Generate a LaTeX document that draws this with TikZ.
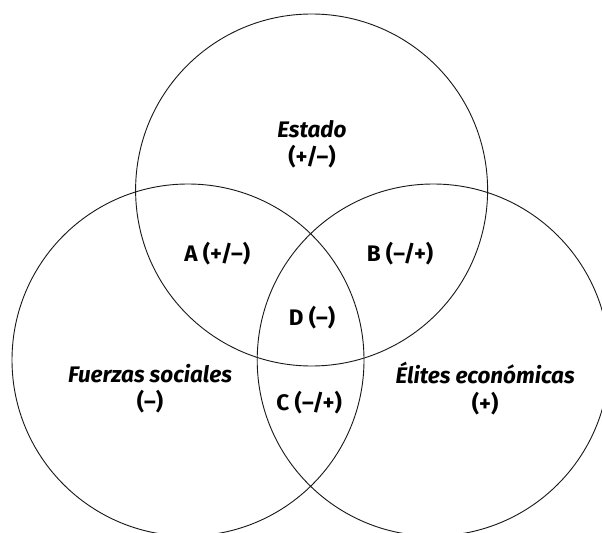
\documentclass[tikz,border=0pt]{standalone}
\usepackage{fontspec}
\setmainfont{Fira Sans}
\usepackage{tikz}
\usetikzlibrary{positioning}
\tikzset{
  setln/.style={line width=0.65pt, black!90},
  lbl/.style={font=\fontsize{16}{19.5}\selectfont\bfseries, align=center, inner sep=0pt},
}

\begin{document}
\begin{tikzpicture}
    % --- frame of the picture ---
    \clip (0,0) rectangle (15.05,13.3);
    \useasboundingbox (0,0) rectangle (15.05,13.3);
    % --- the three sets ---
    \coordinate (cEstado) at (7.79,8.55);
    \coordinate (cFuerzas) at (4.70,4.30);
    \coordinate (cElites) at (10.83,4.30);
    \draw[setln] (cEstado) circle (4.4);
    \draw[setln] (cFuerzas) circle (4.4);
    \draw[setln] (cElites) circle (4.4);
    % --- labels of the sets ---
    \node[lbl] (estado) at (7.80,9.69) {\textit{Estado}\\(+/–)};
    \node[lbl] (fuerzas) at (3.75,3.59) {\textit{Fuerzas sociales}\\(–)};
    \node[lbl] (elites) at (12.13,3.59) {\textit{Élites económicas}\\(+)};
    % --- overlaps ---
    \node[lbl] (zoneA) at (5.43,6.95) {A (+/–)};
    \node[lbl] (zoneB) at (10.00,6.95) {B (–/+)};
    \node[lbl] (zoneD) at (7.80,5.35) {D (–)};
    \node[lbl] (zoneC) at (7.73,3.23) {C (–/+)};
\end{tikzpicture}
\end{document}
